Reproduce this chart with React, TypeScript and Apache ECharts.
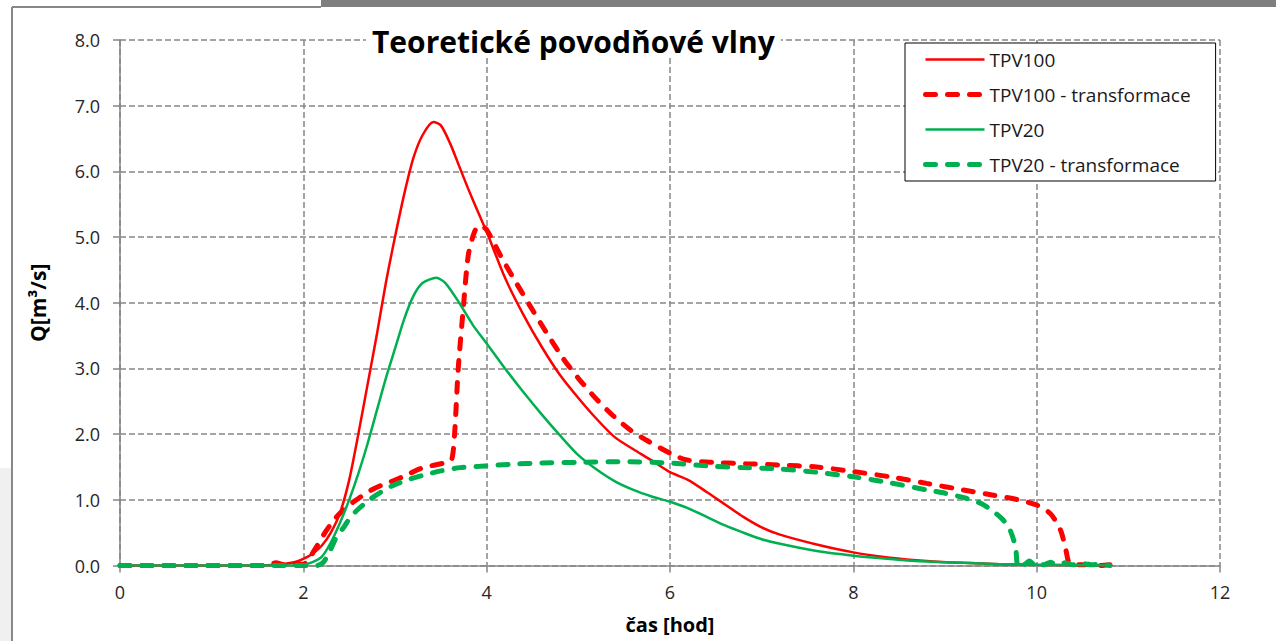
import React, { useEffect, useRef } from "react";
import * as echarts from "echarts";

const seriesNames = ["TPV100", "TPV100 - transformace", "TPV20", "TPV20 - transformace"];

const tpv100T = [0, 1.5, 1.7, 1.9, 2.0, 2.1, 2.2, 2.3, 2.4, 2.5, 2.6, 2.7, 2.8, 2.9, 3.0, 3.1, 3.2, 3.3, 3.42, 3.5, 3.6, 3.7, 3.8, 3.9, 4.0, 4.2, 4.4, 4.6, 4.8, 5.0, 5.2, 5.4, 5.6, 5.8, 6.0, 6.2, 6.4, 6.6, 6.8, 7.0, 7.2, 7.6, 8.0, 8.4, 8.8, 9.2, 9.6, 10.0, 10.4, 10.8];
const tpv100Q = [0, 0, 0.01, 0.05, 0.1, 0.18, 0.3, 0.5, 0.8, 1.3, 2.0, 2.75, 3.5, 4.3, 5.0, 5.65, 6.2, 6.55, 6.75, 6.7, 6.43, 6.08, 5.73, 5.4, 5.08, 4.38, 3.82, 3.33, 2.9, 2.55, 2.23, 1.95, 1.77, 1.6, 1.42, 1.3, 1.12, 0.93, 0.74, 0.58, 0.47, 0.32, 0.2, 0.12, 0.07, 0.04, 0.02, 0.01, 0.005, 0];

const tpv100TrT = [0, 1.6, 1.7, 1.8, 1.9, 2.0, 2.05, 2.15, 2.25, 2.35, 2.47, 2.6, 2.73, 2.85, 2.98, 3.1, 3.27, 3.4, 3.56, 3.62, 3.65, 3.69, 3.75, 3.8, 3.87, 3.93, 4.0, 4.15, 4.29, 4.47, 4.65, 4.83, 5.0, 5.2, 5.38, 5.56, 5.74, 6.0, 6.17, 6.46, 6.83, 7.19, 7.6, 8.0, 8.4, 8.8, 9.2, 9.53, 9.8, 10.0, 10.15, 10.26, 10.32, 10.35, 10.4, 10.5, 10.6, 10.7, 10.8];
const tpv100TrQ = [0, 0, 0.04, 0.01, 0.03, 0.02, 0.08, 0.3, 0.53, 0.72, 0.89, 1.02, 1.14, 1.22, 1.29, 1.36, 1.47, 1.52, 1.57, 1.62, 2.0, 3.0, 4.0, 4.73, 5.09, 5.18, 5.11, 4.72, 4.38, 3.96, 3.55, 3.16, 2.85, 2.53, 2.28, 2.07, 1.91, 1.71, 1.61, 1.57, 1.55, 1.53, 1.5, 1.43, 1.35, 1.25, 1.15, 1.07, 1.0, 0.92, 0.79, 0.54, 0.23, 0.05, 0.02, 0.01, 0.02, 0.0, 0.01];

const tpv20T = [0, 1.9, 2.0, 2.1, 2.2, 2.3, 2.4, 2.5, 2.6, 2.7, 2.8, 2.9, 3.0, 3.1, 3.2, 3.3, 3.45, 3.55, 3.7, 3.85, 4.0, 4.2, 4.4, 4.6, 4.8, 5.0, 5.2, 5.4, 5.6, 5.8, 6.0, 6.2, 6.4, 6.6, 6.8, 7.0, 7.2, 7.6, 8.0, 8.4, 8.8, 9.2, 9.6, 10.0, 10.4, 10.8];
const tpv20Q = [0, 0, 0.01, 0.05, 0.13, 0.35, 0.65, 1.0, 1.4, 1.85, 2.35, 2.85, 3.3, 3.75, 4.1, 4.3, 4.38, 4.3, 4.0, 3.66, 3.38, 3.0, 2.64, 2.3, 1.98, 1.68, 1.46, 1.28, 1.15, 1.05, 0.97, 0.87, 0.74, 0.61, 0.5, 0.4, 0.33, 0.22, 0.15, 0.1, 0.06, 0.04, 0.02, 0.01, 0.005, 0];

const tpv20TrT = [0, 2.0, 2.15, 2.22, 2.3, 2.36, 2.45, 2.51, 2.6, 2.73, 2.85, 2.98, 3.15, 3.35, 3.5, 3.71, 3.93, 4.25, 4.6, 5.0, 5.5, 6.0, 6.46, 6.8, 7.19, 7.6, 8.0, 8.4, 8.8, 9.0, 9.24, 9.4, 9.53, 9.63, 9.71, 9.77, 9.79, 9.82, 9.87, 9.92, 9.97, 10.02, 10.08, 10.15, 10.22, 10.3, 10.4, 10.5, 10.6, 10.7, 10.8];
const tpv20TrQ = [0, 0, 0.0, 0.05, 0.25, 0.43, 0.6, 0.73, 0.86, 1.01, 1.12, 1.22, 1.31, 1.39, 1.44, 1.49, 1.51, 1.54, 1.56, 1.57, 1.58, 1.56, 1.51, 1.49, 1.47, 1.42, 1.35, 1.26, 1.15, 1.1, 1.02, 0.94, 0.82, 0.7, 0.54, 0.28, 0.03, 0.08, 0.02, 0.07, 0.02, 0.06, 0.01, 0.05, 0.01, 0.04, 0.01, 0.03, 0.01, 0.02, 0.0];

const FONT = "'Open Sans', 'Noto Sans', sans-serif";
const RED = "#FF0000";
const GREEN = "#00B050";
const GRID_GRAY = "#868686";

const zip = (t: number[], q: number[]) => t.map((v, i) => [v, q[i]]);

export default function App() {
  const ref = useRef<HTMLDivElement>(null);
  useEffect(() => {
    if (!ref.current) return;
    const chart = echarts.init(ref.current, undefined, { renderer: "svg" });
    const dashed = { width: 5, type: [10, 12] as number[], cap: "round" as const };
    chart.setOption({
      animation: false,
      backgroundColor: "#fff",
      textStyle: { fontFamily: FONT },
      graphic: [
        { type: "rect", shape: { x: 321, y: 0, width: 955, height: 7 }, style: { fill: "#7f7f7f" }, z: 0 },
        { type: "line", shape: { x1: 12, y1: 7, x2: 321, y2: 7 }, style: { stroke: "#888", lineWidth: 2 }, z: 0 },
        { type: "rect", shape: { x: 0, y: 468, width: 11, height: 173 }, style: { fill: "#f0f0f0" }, z: 0 },
        { type: "line", shape: { x1: 12, y1: 7, x2: 12, y2: 641 }, style: { stroke: "#888", lineWidth: 2 }, z: 0 },
      ],
      title: {
        text: "Teoretické povodňové vlny",
        left: 366,
        top: 25,
        padding: [1, 6, 1, 6],
        backgroundColor: "#fff",
        textStyle: { fontFamily: FONT, fontSize: 30, fontWeight: "bold", color: "#000" },
        z: 10,
      },
      legend: {
        orient: "vertical",
        left: 905,
        top: 43,
        data: seriesNames,
        backgroundColor: "#fff",
        borderColor: "#000",
        borderWidth: 1,
        borderRadius: 0,
        padding: [7, 25, 7, 18],
        itemWidth: 59,
        itemHeight: 14,
        itemGap: 16,
        itemStyle: { opacity: 0 },
        lineStyle: { width: "inherit" },
        textStyle: { fontFamily: FONT, fontSize: 19, color: "#1a1a1a" },
        z: 10,
      },
      grid: { left: 120, top: 40, right: 56, bottom: 75.5, containLabel: false },
      xAxis: {
        type: "value",
        min: 0,
        max: 12,
        interval: 2,
        name: "čas [hod]",
        nameLocation: "middle",
        nameGap: 49,
        nameTextStyle: { fontFamily: FONT, fontSize: 20, fontWeight: "bold", color: "#000" },
        axisLine: { show: true, onZero: false, lineStyle: { color: GRID_GRAY, width: 1.5 } },
        axisTick: { show: true, length: 7, lineStyle: { color: GRID_GRAY, width: 1.5 } },
        axisLabel: { margin: 17, fontFamily: FONT, fontSize: 18, color: "#262626" },
        splitLine: { show: true, lineStyle: { color: GRID_GRAY, width: 1.5, type: [6, 3] } },
      },
      yAxis: {
        type: "value",
        min: 0,
        max: 8,
        interval: 1,
        name: "Q[m³/s]",
        nameLocation: "middle",
        nameRotate: 90,
        nameGap: 72,
        nameTextStyle: { fontFamily: FONT, fontSize: 21, fontWeight: "bold", color: "#000" },
        axisLine: { show: true, lineStyle: { color: GRID_GRAY, width: 1.5 } },
        axisTick: { show: true, length: 7, lineStyle: { color: GRID_GRAY, width: 1.5 } },
        axisLabel: { margin: 20, fontFamily: FONT, fontSize: 18, color: "#262626", formatter: (v: number) => v.toFixed(1) },
        splitLine: { show: true, lineStyle: { color: GRID_GRAY, width: 1.5, type: [6, 3] } },
      },
      series: [
        { name: seriesNames[0], type: "line", data: zip(tpv100T, tpv100Q), showSymbol: false, symbol: "none", smooth: 0.25, color: RED, lineStyle: { width: 2.5, color: RED } },
        { name: seriesNames[1], type: "line", data: zip(tpv100TrT, tpv100TrQ), showSymbol: false, symbol: "none", smooth: 0.25, color: RED, lineStyle: { ...dashed, color: RED } },
        { name: seriesNames[2], type: "line", data: zip(tpv20T, tpv20Q), showSymbol: false, symbol: "none", smooth: 0.25, color: GREEN, lineStyle: { width: 2.5, color: GREEN } },
        { name: seriesNames[3], type: "line", data: zip(tpv20TrT, tpv20TrQ), showSymbol: false, symbol: "none", smooth: 0.25, color: GREEN, lineStyle: { ...dashed, color: GREEN } },
      ],
    });
    return () => chart.dispose();
  }, []);
  return <div ref={ref} style={{ position: "fixed", left: 0, top: 0, width: 1276, height: 641 }} />;
}
